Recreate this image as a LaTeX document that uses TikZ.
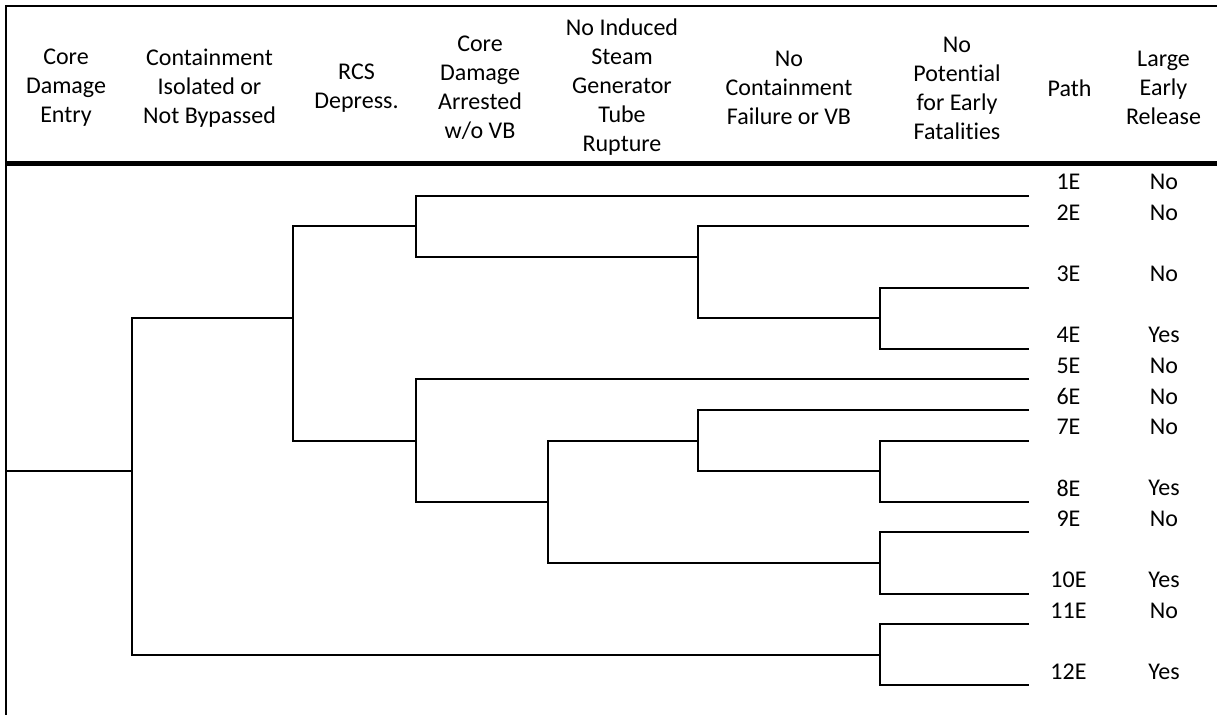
\documentclass[tikz,border=0pt]{standalone}
\usepackage{fontspec}
\setmainfont{Carlito}[Ligatures=NoCommon]
\begin{document}
\begin{tikzpicture}[x=1pt,y=-1pt,
  branch/.style={line width=2pt},
  frameline/.style={line width=2.3pt},
  headrule/.style={line width=4.5pt},
  head/.style={align=center, font=\fontsize{24}{29}\selectfont, inner sep=0pt},
  cell/.style={font=\fontsize{24}{29}\selectfont, inner sep=0pt}]
\useasboundingbox (0,0) rectangle (1217,715);

% table frame and header rule
\coordinate (tl) at (6,6);
\coordinate (tr) at (1217,6);
\coordinate (bl) at (6,715);
\coordinate (hl) at (6,163.3);
\coordinate (hr) at (1217,163.3);
\draw[frameline] (tr) -- (tl) -- (bl);
\draw[headrule] (hl) -- (hr);

% column headings
\node[head] (h1) at (66,88)    {Core\\Damage\\Entry};
\node[head] (h2) at (209.5,88) {Containment\\Isolated or\\Not Bypassed};
\node[head] (h3) at (356.5,88) {RCS\\Depress.};
\node[head] (h4) at (480,88)   {Core\\Damage\\Arrested\\w/o VB};
\node[head] (h5) at (622,87)   {No Induced\\Steam\\Generator\\Tube\\Rupture};
\node[head] (h6) at (789,88)   {No\\Containment\\Failure or VB};
\node[head] (h7) at (957,88)   {No\\Potential\\for Early\\Fatalities};
\node[head] (h8) at (1069.5,88){Path};
\node[head] (h9) at (1163.5,88){Large\\Early\\Release};

% branch points
\coordinate (start) at (6,471.1);
\coordinate (j1)  at (131.5,471.1);
\coordinate (j2)  at (293,318.1);
\coordinate (j3)  at (416,226.3);
\coordinate (j4)  at (698,256.9);
\coordinate (j5)  at (880,318.1);
\coordinate (j6)  at (416,440.5);
\coordinate (j7)  at (548,501.7);
\coordinate (j8)  at (698,440.5);
\coordinate (j9)  at (880,471.1);
\coordinate (j10) at (880,562.9);
\coordinate (j11) at (880,654.7);

% path end points
\coordinate (e1)  at (1029,195.7);
\coordinate (e2)  at (1029,226.3);
\coordinate (e3)  at (1029,287.5);
\coordinate (e4)  at (1029,348.7);
\coordinate (e5)  at (1029,379.3);
\coordinate (e6)  at (1029,409.9);
\coordinate (e7)  at (1029,440.5);
\coordinate (e8)  at (1029,501.7);
\coordinate (e9)  at (1029,532.3);
\coordinate (e10) at (1029,593.5);
\coordinate (e11) at (1029,624.1);
\coordinate (e12) at (1029,685.3);

% event tree branches
\draw[branch] (start) -- (j1);
\draw[branch] (j2) -| (j1) |- (j11);
\draw[branch] (j3) -| (j2) |- (j6);
\draw[branch] (e1) -| (j3) |- (j4);
\draw[branch] (e2) -| (j4) |- (j5);
\draw[branch] (e3) -| (j5) |- (e4);
\draw[branch] (e5) -| (j6) |- (j7);
\draw[branch] (j8) -| (j7) |- (j10);
\draw[branch] (e6) -| (j8) |- (j9);
\draw[branch] (e7) -| (j9) |- (e8);
\draw[branch] (e9) -| (j10) |- (e10);
\draw[branch] (e11) -| (j11) |- (e12);

% path names and release outcomes
\foreach \n/\y/\r in {1/195.7/No, 2/226.3/No, 3/287.5/No, 4/348.7/Yes,
                      5/379.3/No, 6/409.9/No, 7/440.5/No, 8/501.7/Yes,
                      9/532.3/No, 10/593.5/Yes, 11/624.1/No, 12/685.3/Yes}{
  \node[cell] (p\n) at (1068.5,\y-13.5) {\n E};
  \node[cell] (r\n) at (1164,\y-13.5) {\r};
}
\end{tikzpicture}
\end{document}
